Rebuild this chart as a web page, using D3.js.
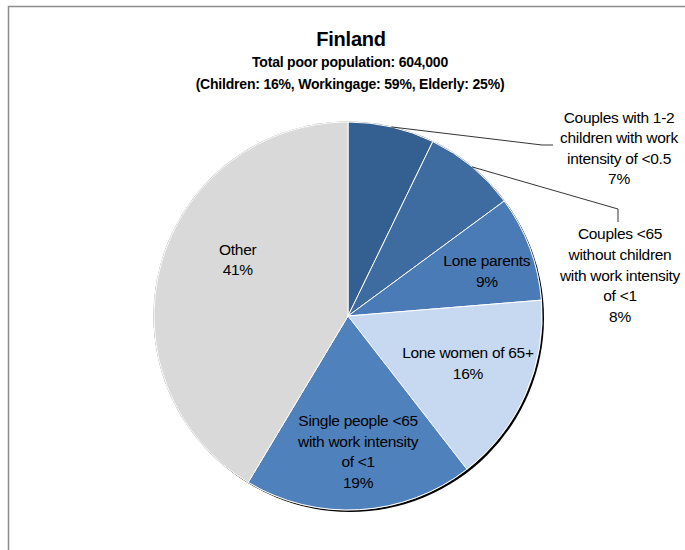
<!DOCTYPE html>
<html><head><meta charset="utf-8">
<script src="https://cdn.jsdelivr.net/npm/d3@7"></script>
<style>
html,body{margin:0;padding:0;background:#fff;}
svg text{font-family:"Liberation Sans",Arial,sans-serif;}
</style></head>
<body><svg id="c" width="685" height="550"></svg>
<script>
const categories = ["Couples with 1-2 children with work intensity of <0.5",
  "Couples <65 without children with work intensity of <1",
  "Lone parents","Lone women of 65+",
  "Single people <65 with work intensity of <1","Other"];
const values = [7.2, 7.7, 8.8, 15.8, 19.1, 41.4];
const labelLines = [
  ["Couples with 1-2","children with work","intensity of <0.5"],
  ["Couples <65","without children","with work intensity","of <1"],
  ["Lone parents"],["Lone women of 65+"],
  ["Single people <65","with work intensity","of <1"],["Other"]];
const colors = ["#335F91","#3E6BA0","#4A7BB7","#C6D9F1","#4F81BD","#D9D9D9"];
const title = "Finland";
const subtitles = ["Total poor population: 604,000","(Children: 16%, Workingage: 59%, Elderly: 25%)"];

const svg = d3.select("#c");
// frame
svg.append("path").attr("d","M8.5,550 V6.5 H685").attr("fill","none").attr("stroke","#8c8c8c").attr("stroke-width",1.5);

svg.append("text").attr("x",351).attr("y",46).attr("text-anchor","middle")
  .attr("font-size",20).attr("font-weight","bold").attr("letter-spacing",-0.2).text(title);
subtitles.forEach((s,i)=>svg.append("text").attr("x",350).attr("y",67+i*22).attr("text-anchor","middle")
  .attr("font-size",14).attr("font-weight","bold").attr("letter-spacing",-0.2).text(s));

const cx=348, cy=316, R=194;
const g = svg.append("g").attr("transform",`translate(${cx},${cy})`);
const pie = d3.pie().sort(null).value(d=>d);
const arcs = pie(values);
const arc = d3.arc().innerRadius(0).outerRadius(R);

// shadow
g.append("circle").attr("cx",2).attr("cy",2).attr("r",R).attr("fill","#000");
g.append("circle").attr("r",R+0.6).attr("fill","#9a9a9a");
g.selectAll("path.s").data(arcs).join("path").attr("class","s")
  .attr("d",arc).attr("fill",(d,i)=>colors[i]).attr("stroke","#fff").attr("stroke-width",1);

const fmt = v => Math.round(v)+"%";
const fs = 15.5, lh = 20.6;
// block of lines centred (horizontally and vertically) on x,y
function block(x,y,lines){
  const t = svg.append("text").attr("text-anchor","middle").attr("font-size",fs).attr("letter-spacing",-0.3).attr("fill","#000");
  const y0 = y - (lines.length-1)*lh/2 + fs*0.36;
  lines.forEach((l,i)=>t.append("tspan").attr("x",x).attr("y",y0+i*lh).text(l));
}
// inside labels: anchored at arc centroid of a label ring
const inside = {2:{r:0.753,dx:2,dy:6},3:{r:0.664,dx:2,dy:-5},4:{r:0.70,dx:2,dy:0},5:{r:0.638,dx:9,dy:-23.5}};
Object.keys(inside).forEach(k=>{
  const i=+k, o=inside[k];
  const la = d3.arc().innerRadius(R*o.r).outerRadius(R*o.r);
  const [x,y]=la.centroid(arcs[i]);
  block(cx+x+o.dx, cy+y+o.dy, labelLines[i].concat([fmt(values[i])]));
});
// outside labels with leader lines
const outside = {0:{tx:619,ty:148,pts:[[542,145],[553,145]]},1:{tx:620,ty:275,pts:[[618,209],[618,222]]}};
Object.keys(outside).forEach(k=>{
  const i=+k,o=outside[k];
  const a=(arcs[i].startAngle+arcs[i].endAngle)/2;
  const p0=[cx+R*Math.sin(a), cy-R*Math.cos(a)];
  svg.append("path").attr("d",d3.line()([p0].concat(o.pts))).attr("fill","none").attr("stroke","#000").attr("stroke-width",0.8);
  block(o.tx,o.ty,labelLines[i].concat([fmt(values[i])]));
});
</script></body></html>
